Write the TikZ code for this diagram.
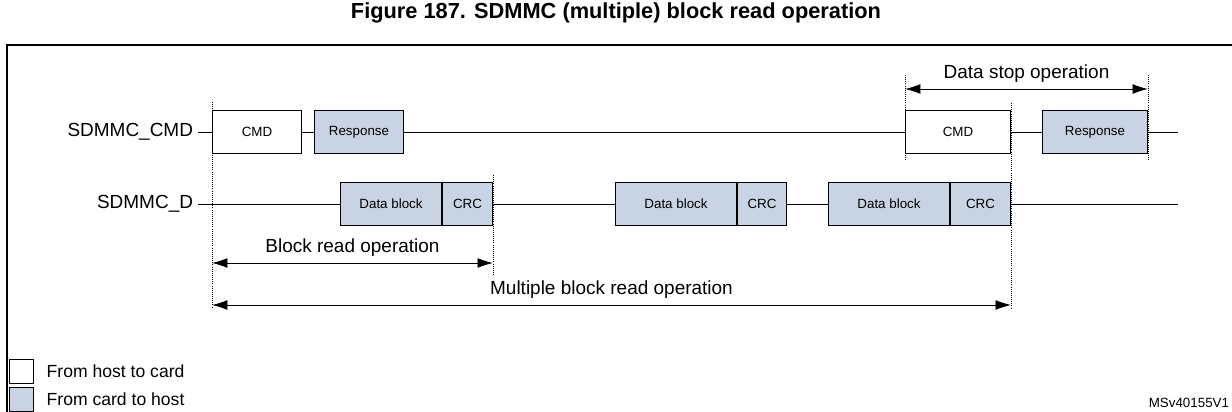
\documentclass[tikz,border=0pt]{standalone}
\usepackage{fontspec}
\setmainfont{Liberation Sans}
\usetikzlibrary{arrows.meta,positioning}
\definecolor{cardblue}{RGB}{200,212,228}

\tikzset{
    host/.style={draw, fill=white, line width=0.6pt, font=\fontsize{9.5}{10}\selectfont},
    card/.style={draw, fill=cardblue, line width=0.6pt, font=\fontsize{9.5}{10}\selectfont},
    wire/.style={line width=0.6pt},
    guide/.style={densely dotted, line width=0.5pt},
    span/.style={{Latex[length=11pt,width=7pt]}-{Latex[length=11pt,width=7pt]}, line width=0.6pt}
}
% box from x1 to x2 (pixels) on row y
\newcommand{\sigbox}[6]{\node[#1, minimum width=#3*0.025cm-0.6pt, minimum height=43*0.025cm, inner sep=0pt, anchor=west] (#2) at (#4,#5) {#6};}

\begin{document}
\begin{tikzpicture}[x=0.025cm, y=-0.025cm]
    \useasboundingbox (0,0) rectangle (1232,412);
    \node[font=\fontsize{15.5}{17}\selectfont\bfseries] (title) at (616,13) {Figure 187. SDMMC (multiple) block read operation};
    \draw[line width=1.2pt] (7,420) -- (7,45) -- (1240,45);

    % signal rows
    \node[anchor=east, font=\fontsize{13.5}{15}\selectfont] (lcmd) at (198,132) {SDMMC\_CMD};
    \node[anchor=east, font=\fontsize{13.5}{15}\selectfont] (ld) at (198,204) {SDMMC\_D};
    \draw[wire] (lcmd.east) -- (1178,132);
    \draw[wire] (ld.east) -- (1178,204);

    \sigbox{host}{cmda}{90}{212}{132}{CMD}
    \sigbox{card}{respa}{90}{314}{132}{Response}
    \sigbox{host}{cmdb}{106}{905}{132}{CMD}
    \sigbox{card}{respb}{106}{1042}{132}{Response}

    \sigbox{card}{dba}{102}{340}{204}{Data block}
    \sigbox{card}{crca}{51}{442}{204}{CRC}
    \sigbox{card}{dbb}{122}{615}{204}{Data block}
    \sigbox{card}{crcb}{50}{737}{204}{CRC}
    \sigbox{card}{dbc}{122}{828}{204}{Data block}
    \sigbox{card}{crcc}{61}{950}{204}{CRC}

    % guides
    \draw[guide] (212,102) -- (212,308);
    \draw[guide] (493,175) -- (493,275);
    \draw[guide] (1011,103) -- (1011,308);
    \draw[guide] (905,75) -- (905,160);
    \draw[guide] (1148,75) -- (1148,160);

    % spans
    \coordinate (bra) at (212,263); \coordinate (brb) at (493,263);
    \coordinate (mra) at (212,305); \coordinate (mrb) at (1011,305);
    \coordinate (dsa) at (905,89);  \coordinate (dsb) at (1148,89);
    \draw[span] (bra) -- node[above=1pt, font=\fontsize{13.5}{15}\selectfont] {Block read operation} (brb);
    \draw[span] (mra) -- node[above=1pt, font=\fontsize{13.5}{15}\selectfont] {Multiple block read operation} (mrb);
    \draw[span] (dsa) -- node[above=1pt, font=\fontsize{13.5}{15}\selectfont] {Data stop operation} (dsb);

    % legend
    \node[draw, fill=white, minimum size=24*0.025cm, inner sep=0pt] (kh) at (21,371) {};
    \node[draw, fill=cardblue, minimum size=24*0.025cm, inner sep=0pt] (kc) at (21,399) {};
    \node[right=6pt of kh, font=\fontsize{12.5}{14}\selectfont] {From host to card};
    \node[right=6pt of kc, font=\fontsize{12.5}{14}\selectfont] {From card to host};
    \node[anchor=east, font=\fontsize{9.5}{10}\selectfont] (ref) at (1234,403) {MSv40155V1};
\end{tikzpicture}
\end{document}
